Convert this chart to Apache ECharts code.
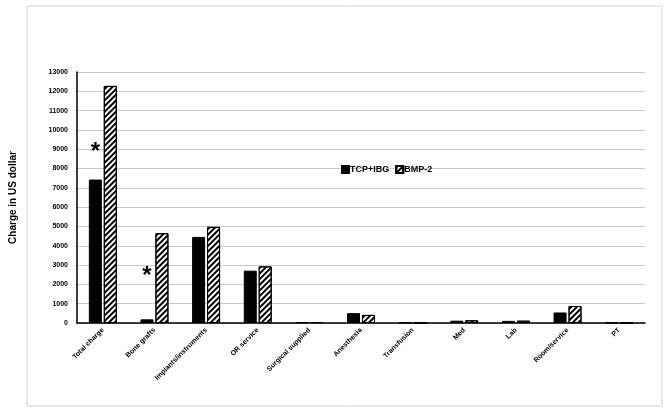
<!DOCTYPE html>
<html>
<head>
<meta charset="utf-8">
<script src="https://cdn.jsdelivr.net/npm/echarts@6/dist/echarts.min.js"></script>
<style>
  html, body { margin: 0; padding: 0; background: #fff; }
  #chart { width: 669px; height: 414px; }
</style>
</head>
<body>
<div id="chart"></div>
<script>
const categories = ['Total charge', 'Bone grafts', 'Implants/instruments', 'OR service', 'Surgical supplied',
  'Anesthesia', 'Transfusion', 'Med', 'Lab', 'Room/service', 'PT'];
const tcpIbg = [7430, 190, 4460, 2710, 30, 510, 20, 120, 110, 545, 15];
const bmp2 = [12280, 4650, 4980, 2930, 50, 420, 10, 140, 120, 880, 15];
// asterisks marking significant differences
const starMarks = [['Total charge', 9100], ['Bone grafts', 2650]];

const chart = echarts.init(document.getElementById('chart'));
const font = 'Arial, "Liberation Sans", sans-serif';

const option = {
  animation: false,
  textStyle: { fontFamily: font },
  graphic: [{
    type: 'rect',
    shape: { x: 27, y: 6, width: 635, height: 400 },
    style: { fill: 'none', stroke: '#d0d0d0', lineWidth: 1 }
  }],
  legend: {
    left: 336, top: 160,
    icon: 'rect',
    itemWidth: 7, itemHeight: 7, itemGap: 6,
    textStyle: { fontSize: 9, fontWeight: 'bold', color: '#000', padding: [0, 0, 0, -4] },
    data: ['TCP+IBG', 'BMP-2']
  },
  grid: { left: 60, right: 24, top: 72, bottom: 91 },
  xAxis: {
    type: 'category',
    data: categories,
    axisLine: { lineStyle: { color: '#000', width: 1.5 } },
    axisTick: { show: false },
    axisLabel: { rotate: 45, fontSize: 7, fontWeight: 'bold', color: '#000', interval: 0, margin: 6 }
  },
  yAxis: {
    type: 'value',
    min: 0, max: 13000, interval: 1000,
    name: 'Charge in US dollar',
    nameLocation: 'middle',
    nameGap: 45,
    nameTextStyle: { fontSize: 10, fontWeight: 'bold', color: '#000', padding: [0, 0, 14, 0] },
    axisLine: { show: true, lineStyle: { color: '#000', width: 1.5 } },
    axisTick: { show: false },
    axisLabel: { fontSize: 7, fontWeight: 'bold', color: '#000', margin: 9, formatter: v => String(v) },
    splitLine: { lineStyle: { color: '#c8c8c8', width: 1 } }
  },
  series: [
    {
      name: 'TCP+IBG',
      type: 'bar',
      data: tcpIbg,
      barWidth: 13,
      barGap: '15%',
      itemStyle: { color: '#000', borderColor: '#000', borderWidth: 1 },
      markPoint: {
        symbol: 'circle',
        symbolSize: 1,
        itemStyle: { color: 'rgba(0,0,0,0)' },
        label: { show: true, formatter: '*', fontSize: 24, fontWeight: 'bold', color: '#000', offset: [0, 5] },
        data: starMarks.map(m => ({ coord: m }))
      }
    },
    {
      name: 'BMP-2',
      type: 'bar',
      data: bmp2,
      barWidth: 13,
      itemStyle: {
        color: '#fff',
        borderColor: '#000',
        borderWidth: 1,
        decal: {
          symbol: 'rect',
          symbolSize: 1,
          dashArrayX: [1, 0],
          dashArrayY: [2, 2],
          rotation: -Math.PI / 4,
          color: '#000'
        }
      }
    }
  ]
};

chart.setOption(option);
</script>
</body>
</html>
